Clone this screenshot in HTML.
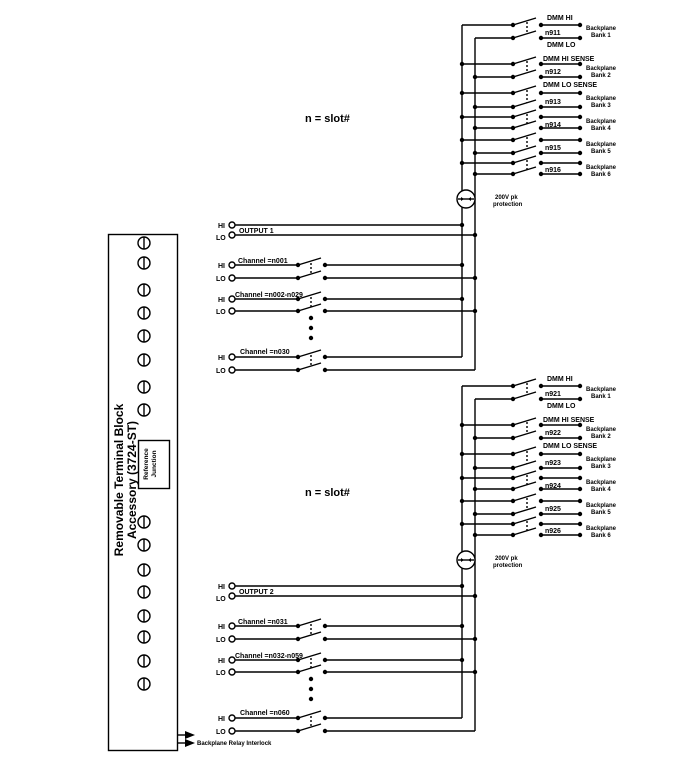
<!DOCTYPE html>
<html><head><meta charset="utf-8"><style>
html,body{margin:0;padding:0;background:#fff;}
svg{display:block;font-family:"Liberation Sans",Arial,sans-serif;font-weight:bold;}
text{font-size:7px;fill:#000;}
</style></head><body>
<svg id="s" width="691" height="757" viewBox="0 0 691 757" xmlns="http://www.w3.org/2000/svg">
<g id="g" stroke="#000" stroke-width="1.4" fill="none"></g>
<!-- terminal block -->
<rect x="108.5" y="234.5" width="69" height="516" stroke="#000" stroke-width="1.4" fill="none"/>
<rect x="138.5" y="440.5" width="31" height="48" stroke="#000" stroke-width="1.4" fill="none"/>
<text transform="translate(123,480) rotate(-90)" text-anchor="middle" style="font-size:12px">Removable Terminal Block</text>
<text transform="translate(136,480) rotate(-90)" text-anchor="middle" style="font-size:12px">Accessory (3724-ST)</text>
<text transform="translate(148,464) rotate(-90)" text-anchor="middle" style="font-size:6.5px">Reference</text>
<text transform="translate(156,464) rotate(-90)" text-anchor="middle" style="font-size:6.5px">Junction</text>
<!-- top section text -->
<text x="305" y="122" style="font-size:11px">n = slot#</text>
<text x="547" y="20">DMM HI</text>
<text x="545" y="35">n911</text>
<text x="547" y="47">DMM LO</text>
<text x="543" y="61">DMM HI SENSE</text>
<text x="545" y="74">n912</text>
<text x="543" y="87">DMM LO SENSE</text>
<text x="545" y="104">n913</text>
<text x="545" y="127">n914</text>
<text x="545" y="150">n915</text>
<text x="545" y="172">n916</text>
<text x="586" y="30" style="font-size:6px">Backplane</text><text x="591" y="37" style="font-size:6px">Bank 1</text>
<text x="586" y="70" style="font-size:6px">Backplane</text><text x="591" y="77" style="font-size:6px">Bank 2</text>
<text x="586" y="100" style="font-size:6px">Backplane</text><text x="591" y="107" style="font-size:6px">Bank 3</text>
<text x="586" y="123" style="font-size:6px">Backplane</text><text x="591" y="130" style="font-size:6px">Bank 4</text>
<text x="586" y="146" style="font-size:6px">Backplane</text><text x="591" y="153" style="font-size:6px">Bank 5</text>
<text x="586" y="169" style="font-size:6px">Backplane</text><text x="591" y="176" style="font-size:6px">Bank 6</text>
<text x="495" y="199" style="font-size:6px">200V pk</text><text x="493" y="206" style="font-size:6px">protection</text>
<text x="218" y="228">HI</text><text x="216" y="240">LO</text><text x="239" y="233">OUTPUT 1</text>
<text x="218" y="268">HI</text><text x="216" y="281">LO</text><text x="238" y="263">Channel =n001</text>
<text x="218" y="302">HI</text><text x="216" y="314">LO</text><text x="235" y="297">Channel =n002-n029</text>
<text x="218" y="360">HI</text><text x="216" y="373">LO</text><text x="240" y="354">Channel =n030</text>
<!-- bottom section text -->
<text x="305" y="496" style="font-size:11px">n = slot#</text>
<text x="547" y="381">DMM HI</text>
<text x="545" y="396">n921</text>
<text x="547" y="408">DMM LO</text>
<text x="543" y="422">DMM HI SENSE</text>
<text x="545" y="435">n922</text>
<text x="543" y="448">DMM LO SENSE</text>
<text x="545" y="465">n923</text>
<text x="545" y="488">n924</text>
<text x="545" y="511">n925</text>
<text x="545" y="533">n926</text>
<text x="586" y="391" style="font-size:6px">Backplane</text><text x="591" y="398" style="font-size:6px">Bank 1</text>
<text x="586" y="431" style="font-size:6px">Backplane</text><text x="591" y="438" style="font-size:6px">Bank 2</text>
<text x="586" y="461" style="font-size:6px">Backplane</text><text x="591" y="468" style="font-size:6px">Bank 3</text>
<text x="586" y="484" style="font-size:6px">Backplane</text><text x="591" y="491" style="font-size:6px">Bank 4</text>
<text x="586" y="507" style="font-size:6px">Backplane</text><text x="591" y="514" style="font-size:6px">Bank 5</text>
<text x="586" y="530" style="font-size:6px">Backplane</text><text x="591" y="537" style="font-size:6px">Bank 6</text>
<text x="495" y="560" style="font-size:6px">200V pk</text><text x="493" y="567" style="font-size:6px">protection</text>
<text x="218" y="589">HI</text><text x="216" y="601">LO</text><text x="239" y="594">OUTPUT 2</text>
<text x="218" y="629">HI</text><text x="216" y="642">LO</text><text x="238" y="624">Channel =n031</text>
<text x="218" y="663">HI</text><text x="216" y="675">LO</text><text x="235" y="658">Channel =n032-n059</text>
<text x="218" y="721">HI</text><text x="216" y="734">LO</text><text x="240" y="715">Channel =n060</text>
<text x="197" y="745" style="font-size:6px">Backplane Relay Interlock</text>
</svg>
<script>
var g=document.getElementById('g'),NS='http://www.w3.org/2000/svg';
function el(t,a){var e=document.createElementNS(NS,t);for(var k in a)e.setAttribute(k,a[k]);g.appendChild(e);return e;}
function L(x1,y1,x2,y2,extra){var e=el('line',{x1:x1,y1:y1,x2:x2,y2:y2});if(extra)for(var k in extra)e.setAttribute(k,extra[k]);return e;}
function D(x,y){el('circle',{cx:x,cy:y,r:2.2,fill:'#000',stroke:'none'});}
function C(x,y,r){el('circle',{cx:x,cy:y,r:r,fill:'#fff'});}
var screws=[243,263,290,313,336,360,387,410,522,545,570,592,616,637,661,684];
screws.forEach(function(y){C(144,y,6);L(144,y-6,144,y+6);});
function section(o){
  var HX=462,LX=475;
  var rows=[[25,38],[64,77],[93,107],[117,128],[140,153],[163,174]];
  L(HX,25+o,HX,357+o);L(LX,38+o,LX,370+o);
  rows.forEach(function(r,i){
    r.forEach(function(y){
      y+=o;
      L(i==0?(y==25+o?HX:LX):(y==r[0]+o?HX:LX),y,513,y);
      D(513,y);L(513,y,536,y-7);D(541,y);L(541,y,580,y);D(580,y);
      if(i>0)D(y==r[0]+o?HX:LX,y);
    });
    L(527,r[0]+o-3,527,r[1]+o-4,{'stroke-dasharray':'2,2'});
  });
  C(466,199+o,9);
  L(458,199+o,474,199+o);
  el('path',{d:'M461 '+(197+o)+' L464 '+(199+o)+' L461 '+(201+o)+' Z M471 '+(197+o)+' L468 '+(199+o)+' L471 '+(201+o)+' Z',fill:'#000',stroke:'none'});
  [[225,HX],[235,LX]].forEach(function(p){var y=p[0]+o;C(232,y,3);L(235,y,p[1],y);D(p[1],y);});
  [[265,278,1],[299,311,1],[357,370,0]].forEach(function(c){
    [[c[0],HX],[c[1],LX]].forEach(function(p){var y=p[0]+o;C(232,y,3);L(235,y,298,y);D(298,y);L(298,y,321,y-7);D(325,y);L(325,y,p[1],y);if(c[2])D(p[1],y);});
    L(311,c[0]+o-2,311,c[1]+o-4,{'stroke-dasharray':'2,2'});
  });
  D(311,318+o);D(311,328+o);D(311,338+o);
}
section(0);section(361);
L(177,735,190,735);L(177,743,190,743);
el('path',{d:'M185 731 L195 735 L185 739 Z M185 739 L195 743 L185 747 Z',fill:'#000',stroke:'none'});
</script>
</body></html>
